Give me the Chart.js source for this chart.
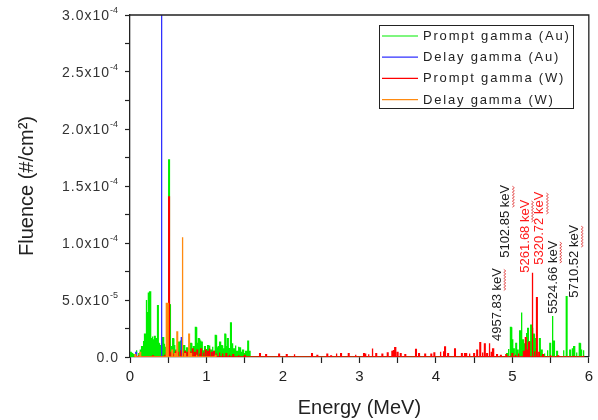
<!DOCTYPE html>
<html>
<head>
<meta charset="utf-8">
<script src="https://cdn.jsdelivr.net/npm/chart.js@4.4.1/dist/chart.umd.min.js"></script>
<style>
  body { margin: 0; background: #fff; }
  #wrap { width: 598px; height: 420px; }
</style>
</head>
<body>
<div id="wrap"><canvas id="myChart"></canvas></div>
<script>
'use strict';

// peak energies (MeV) and fluence (x1e-5 #/cm2)

// Prompt gamma (Au)
let auPromptE = [0.010, 0.030, 0.050, 0.085, 0.120, 0.140, 0.160, 0.175, 0.185, 0.195,
  0.205, 0.215, 0.225, 0.235, 0.245, 0.255, 0.265, 0.275, 0.285, 0.295,
  0.305, 0.315, 0.325, 0.335, 0.345, 0.355, 0.365, 0.375, 0.385, 0.395,
  0.405, 0.415, 0.425, 0.435, 0.445, 0.455, 0.465, 0.475, 0.490, 0.511,
  0.520, 0.535, 0.550, 0.565, 0.580, 0.600, 0.620, 0.640, 0.655, 0.665,
  0.690, 0.710, 0.725, 0.745, 0.765, 0.780, 0.800, 0.815, 0.835, 0.860,
  0.880, 0.900, 0.920, 0.940, 0.960, 0.980, 1.000, 1.020, 1.040, 1.060,
  1.080, 1.100, 1.120, 1.140, 1.160, 1.180, 1.200, 1.220, 1.245, 1.260,
  1.280, 1.300, 1.320, 1.340, 1.360, 1.380, 1.400, 1.420, 1.440, 1.460,
  1.480, 1.500, 1.520, 1.545, 1.565,
  4.930, 4.950, 4.980, 5.000, 5.020, 5.050, 5.070, 5.100, 5.120, 5.140,
  5.160, 5.185, 5.205, 5.225, 5.245, 5.260, 5.280, 5.295, 5.315, 5.360,
  5.385, 5.420, 5.460, 5.495, 5.525, 5.545, 5.585, 5.670, 5.710, 5.755,
  5.790, 5.810, 5.840, 5.880, 5.900, 5.930];
let auPromptF = [0.4, 0.3, 0.2, 0.6, 0.3, 0.6, 0.9, 1.4, 0.8, 2.0,
  1.2, 5.0, 3.9, 2.8, 5.6, 2.5, 5.7, 1.6, 1.4, 1.8,
  1.2, 1.5, 1.8, 1.3, 1.0, 1.6, 4.5, 1.2, 1.0, 0.8,
  1.0, 0.6, 1.5, 1.7, 1.1, 0.7, 0.9, 0.5, 0.6, 17.3,
  4.6, 0.8, 0.9, 1.6, 1.0, 0.6, 0.7, 1.3, 0.7, 1.4,
  0.5, 1.0, 0.6, 0.8, 0.5, 1.0, 1.2, 0.6, 0.9, 2.6,
  1.2, 1.6, 1.4, 1.3, 0.6, 0.9, 0.7, 1.0, 1.0, 0.6,
  0.9, 0.5, 1.9, 0.8, 0.9, 1.3, 1.0, 0.7, 2.0, 0.9,
  1.6, 0.8, 3.0, 1.2, 0.7, 1.0, 0.5, 0.9, 0.8, 0.4,
  0.6, 0.3, 0.5, 1.4, 0.5,
  0.3, 0.7, 2.6, 1.5, 0.7, 1.2, 0.6, 2.3, 3.9, 1.5,
  1.2, 2.1, 2.5, 1.4, 2.8, 2.5, 2.0, 1.6, 0.8, 1.6,
  0.6, 0.3, 0.6, 1.2, 3.6, 1.4, 0.5, 0.6, 5.3, 0.6,
  0.7, 0.9, 0.4, 1.2, 0.6, 0.6];

// Delay gamma (Au)
let auDelayE = [0.080, 0.412, 0.676, 1.088];
let auDelayF = [0.4, 95.0, 1.7, 0.4];

// Prompt gamma (W)
let wPromptE = [0.060, 0.120, 0.300, 0.450, 0.480, 0.511, 0.540, 0.570, 0.600, 0.630,
  0.660, 0.690, 0.720, 0.750, 0.770, 0.790, 0.820, 0.850, 0.880, 0.910,
  0.930, 0.960, 0.990, 1.020, 1.040, 1.070, 1.100, 1.130, 1.170, 1.210,
  1.260, 1.300, 1.350, 1.420, 1.500, 1.700, 1.780, 1.950, 2.050, 2.150,
  2.380, 2.450, 2.580, 2.630, 2.700, 2.760, 2.860, 2.950, 3.060, 3.080,
  3.120, 3.170, 3.220, 3.300, 3.370, 3.430, 3.450, 3.470, 3.500, 3.540,
  3.600, 3.740, 3.780, 3.860, 3.940, 3.980, 4.060, 4.100, 4.120, 4.160,
  4.250, 4.340, 4.380, 4.400, 4.440, 4.500, 4.540, 4.580, 4.610, 4.640,
  4.670, 4.700, 4.730, 4.750, 4.800, 4.850, 4.920, 5.000, 5.040, 5.080,
  5.150, 5.175, 5.200, 5.220, 5.262, 5.290, 5.321, 5.350, 5.400, 5.500,
  5.600, 5.800, 5.930];
let wPromptF = [0.1, 0.1, 0.1, 0.2, 0.3, 14.05, 0.4, 0.3, 0.5, 0.4,
  0.6, 0.3, 0.5, 0.4, 0.7, 0.5, 0.7, 0.4, 0.6, 0.3,
  0.7, 0.4, 0.6, 0.5, 0.75, 0.4, 0.5, 0.3, 0.4, 0.3,
  0.3, 0.2, 0.2, 0.15, 0.15, 0.3, 0.2, 0.25, 0.2, 0.25,
  0.3, 0.15, 0.25, 0.1, 0.3, 0.3, 0.3, 0.2, 0.3, 0.3,
  0.25, 0.75, 0.3, 0.25, 0.35, 0.5, 0.55, 0.82, 0.4, 0.3,
  0.2, 0.67, 0.3, 0.25, 0.25, 0.35, 0.45, 0.5, 0.88, 0.3,
  0.7, 0.3, 0.3, 0.35, 0.3, 0.3, 0.6, 1.25, 0.4, 1.15,
  0.3, 1.2, 0.4, 0.7, 0.2, 0.15, 0.2, 0.3, 0.2, 0.3,
  0.5, 1.7, 0.6, 1.3, 7.4, 0.5, 5.2, 0.4, 0.2, 0.15,
  0.1, 0.1, 0.1];

// Delay gamma (W)
let wDelayE = [0.070, 0.134, 0.480, 0.495, 0.552, 0.590, 0.618, 0.686, 0.720, 0.773,
  0.800, 0.870, 1.120];
let wDelayF = [0.2, 0.4, 4.7, 4.7, 0.6, 0.3, 2.2, 10.5, 0.3, 2.0,
  0.3, 0.2, 0.15];

let seriesNames = ['Prompt gamma (Au)', 'Delay gamma (Au)', 'Prompt gamma (W)', 'Delay gamma (W)'];
let seriesColors = ['#00ee00', '#3030ff', '#ff0000', '#ff8a10'];

// y tick labels (mantissa, exponent)
let yTickVals = [0, 5, 10, 15, 20, 25, 30];
let yTickMant = ['0.0', '5.0x10', '1.0x10', '1.5x10', '2.0x10', '2.5x10', '3.0x10'];
let yTickExp = ['', '-5', '-4', '-4', '-4', '-4', '-4'];

// peak labels written on the plot
let noteText = ['4957.83 keV', '5102.85 keV', '5261.68 keV', '5320.72 keV', '5524.66 keV', '5710.52 keV'];
let noteE = [4.803, 4.915, 5.165, 5.360, 5.535, 5.815];
let noteF = [1.4, 8.7, 7.4, 8.1, 3.8, 5.2];
let noteColor = ['#1a1a1a', '#1a1a1a', '#ff1a1a', '#ff1a1a', '#1a1a1a', '#1a1a1a'];

const FONT = "'Liberation Sans', Arial, sans-serif";

// turn each peak into a narrow bin of the histogram line
function spikes(es, fs) {
  let pts = [];
  let w = 0.005;
  for (let i = 0; i < es.length; i++) {
    pts.push({x: es[i] - w, y: 0});
    pts.push({x: es[i] - w, y: fs[i]});
    pts.push({x: es[i] + w, y: fs[i]});
    pts.push({x: es[i] + w, y: 0});
  }
  return pts;
}

const framePlugin = {
  id: 'frame',
  afterDatasetsDraw(chart) {
    const c = chart.ctx, a = chart.chartArea;
    c.save();
    c.strokeStyle = '#222';
    c.lineWidth = 1.3;
    c.beginPath();
    c.moveTo(a.left, a.top);
    c.lineTo(a.right, a.top);
    c.lineTo(a.right, a.bottom);
    c.stroke();
    c.restore();
  }
};

const yLabelPlugin = {
  id: 'yLabels',
  afterDraw(chart) {
    const c = chart.ctx, y = chart.scales.y;
    const right = chart.chartArea.left - 12;
    c.save();
    c.fillStyle = '#333';
    c.textBaseline = 'middle';
    for (let i = 0; i < yTickVals.length; i++) {
      const py = y.getPixelForValue(yTickVals[i]);
      c.font = '9px ' + FONT;
      c.letterSpacing = '0px';
      const ew = yTickExp[i] ? c.measureText(yTickExp[i]).width + 1 : 0;
      if (yTickExp[i]) {
        c.textAlign = 'left';
        c.fillText(yTickExp[i], right - ew + 1, py - 4);
      }
      c.font = '14px ' + FONT;
      c.letterSpacing = '1px';
      c.textAlign = 'right';
      c.fillText(yTickMant[i], right - ew + 1, py + 1);
    }
    c.restore();
  }
};

const legendPlugin = {
  id: 'boxLegend',
  afterDraw(chart) {
    const c = chart.ctx;
    c.save();
    c.fillStyle = '#fff';
    c.fillRect(379.5, 25.5, 194, 83);
    c.strokeStyle = '#222';
    c.lineWidth = 1;
    c.strokeRect(379.5, 25.5, 194, 83);
    c.font = '13px ' + FONT;
    c.letterSpacing = '1.8px';
    c.textBaseline = 'middle';
    c.textAlign = 'left';
    for (let i = 0; i < seriesNames.length; i++) {
      const ry = 36 + i * 21.2;
      c.strokeStyle = seriesColors[i];
      c.lineWidth = 1.2;
      c.beginPath();
      c.moveTo(382, ry);
      c.lineTo(418, ry);
      c.stroke();
      c.fillStyle = '#222';
      c.fillText(seriesNames[i], 423, ry + 0.5);
    }
    c.restore();
  }
};

const notePlugin = {
  id: 'peakNotes',
  afterDraw(chart) {
    const c = chart.ctx, sx = chart.scales.x, sy = chart.scales.y;
    c.save();
    c.font = '13px ' + FONT;
    c.textBaseline = 'middle';
    c.textAlign = 'left';
    for (let i = 0; i < noteText.length; i++) {
      const px = sx.getPixelForValue(noteE[i]);
      const py = sy.getPixelForValue(noteF[i]);
      c.save();
      c.translate(px, py);
      c.rotate(-Math.PI / 2);
      c.fillStyle = noteColor[i];
      c.fillText(noteText[i], 0, 0);
      // spell-check squiggle under "keV"
      const t = noteText[i];
      const x0 = c.measureText(t.slice(0, t.indexOf('keV'))).width;
      const x1 = c.measureText(t).width;
      c.strokeStyle = '#e03030';
      c.lineWidth = 0.8;
      c.beginPath();
      let k = 0;
      for (let s = x0; s <= x1; s += 1.5) {
        const off = 7.5 + (k % 2 ? 1 : -1);
        if (k === 0) c.moveTo(s, off); else c.lineTo(s, off);
        k++;
      }
      c.stroke();
      c.restore();
    }
    c.restore();
  }
};

let ctx = document.getElementById('myChart').getContext('2d');
let myChart = new Chart(ctx, { //eslint-disable-line
  type: 'line',
  data: {
    datasets: [
      { label: seriesNames[0], data: spikes(auPromptE, auPromptF), borderColor: seriesColors[0], order: 4 },
      { label: seriesNames[1], data: spikes(auDelayE, auDelayF), borderColor: seriesColors[1], order: 3 },
      { label: seriesNames[2], data: spikes(wPromptE, wPromptF), borderColor: seriesColors[2], order: 2 },
      { label: seriesNames[3], data: spikes(wDelayE, wDelayF), borderColor: seriesColors[3], order: 1 }
    ]
  },
  options: {
    animation: false,
    responsive: true,
    maintainAspectRatio: false,
    layout: { padding: { top: 15, right: 7, left: 0, bottom: 0 } },
    elements: {
      point: { radius: 0 },
      line: { borderWidth: 1.3, tension: 0, fill: false }
    },
    plugins: {
      legend: { display: false },
      tooltip: { enabled: false }
    },
    scales: {
      x: {
        type: 'linear',
        min: 0,
        max: 6,
        afterFit: s => { s.height = 63; },
        border: { display: true, color: '#222', width: 1.3 },
        grid: { drawOnChartArea: false, drawTicks: true, tickLength: 6, tickColor: '#222', tickWidth: 1.2 },
        ticks: {
          stepSize: 0.5,
          autoSkip: false,
          maxRotation: 0,
          padding: 5,
          color: '#222',
          font: { family: FONT, size: 15 },
          callback: v => (Number.isInteger(v) ? String(v) : '')
        },
        title: {
          display: true,
          text: 'Energy (MeV)',
          color: '#222',
          font: { family: FONT, size: 20 },
          padding: { top: 0, bottom: 0 }
        }
      },
      y: {
        min: 0,
        max: 30,
        afterFit: s => { s.width = 130; },
        border: { display: true, color: '#222', width: 1.3 },
        grid: { drawOnChartArea: false, drawTicks: true, tickLength: 5, tickColor: '#222', tickWidth: 1.2 },
        ticks: { stepSize: 2.5, display: false },
        title: {
          display: true,
          text: 'Fluence (#/cm²)',
          color: '#222',
          font: { family: FONT, size: 20 },
          padding: { top: 15, bottom: 0 }
        }
      }
    }
  },
  plugins: [framePlugin, yLabelPlugin, legendPlugin, notePlugin]
});
</script>
</body>
</html>
